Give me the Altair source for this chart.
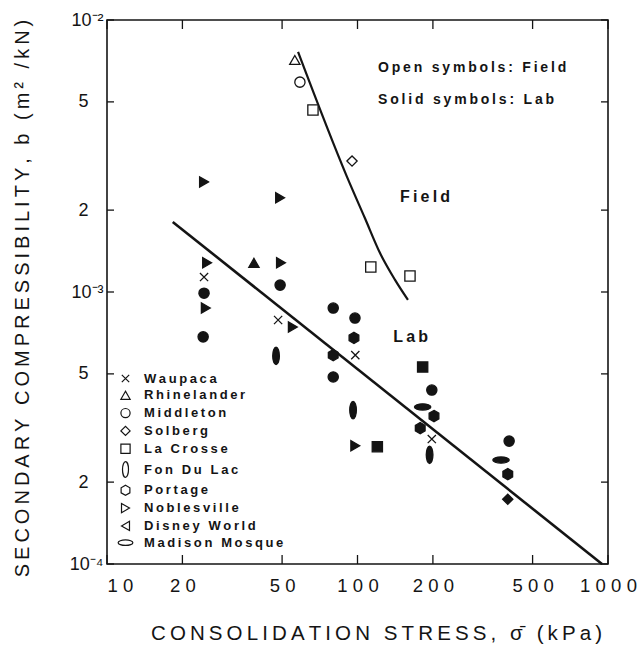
import unicodedata
import altair as alt
import pandas as pd

# ---------------- data ----------------
sites = ["Waupaca", "Rhinelander", "Middleton", "Solberg", "La Crosse",
         "Fon Du Lac", "Portage", "Noblesville", "Disney World", "Madison Mosque"]

field_site = ["Rhinelander", "Middleton", "La Crosse", "Solberg", "La Crosse", "La Crosse"]
field_x = [56.2, 58.9, 66.4, 95.1, 113, 162]
field_y = [0.00713, 0.00591, 0.00467, 0.00303, 0.001236, 0.001145]

lab_site = ["Noblesville", "Noblesville", "Waupaca", "Middleton", "Noblesville", "Middleton",
            "Rhinelander",
            "Noblesville", "Noblesville", "Middleton", "Waupaca", "Fon Du Lac", "Noblesville",
            "Middleton", "Portage", "Middleton",
            "Middleton", "Portage", "Waupaca", "Fon Du Lac", "Noblesville",
            "La Crosse",
            "La Crosse", "Middleton", "Madison Mosque", "Portage", "Portage", "Waupaca", "Fon Du Lac",
            "Middleton", "Madison Mosque", "Portage", "Solberg"]
lab_x = [24.4, 25.1, 24.4, 24.4, 24.8, 24.2,
         38.6,
         49.1, 49.5, 49.1, 48.2, 47.3, 55.2,
         80, 80, 80,
         97.7, 96.8, 98, 96, 98,
         120,
         182, 198, 182, 202, 178, 198, 194,
         403, 374, 398, 398]
lab_y = [0.00254, 0.00128, 0.001135, 0.00099, 0.000873, 0.000684,
         0.00128,
         0.00222, 0.00128, 0.00106, 0.000789, 0.000582, 0.000743,
         0.000873, 0.000586, 0.000487,
         0.000802, 0.000678, 0.000586, 0.000368, 0.000272,
         0.000270,
         0.00053, 0.000436, 0.000378, 0.00035, 0.000316, 0.000288, 0.000252,
         0.000283, 0.000241, 0.000214, 0.000173]

lab_line_x = [18.3, 946]
lab_line_y = [0.00181, 0.0001]

field_curve_x = [57.9, 90.8, 107, 123, 141, 159]
field_curve_y = [0.00763, 0.00265, 0.00187, 0.00139, 0.00111, 0.000935]

x_ticks = [10, 20, 50, 100, 200, 500, 1000]
y_ticks = [0.0001, 0.0002, 0.0005, 0.001, 0.002, 0.005, 0.01]
PAD = "\u00a0\u2007\u2060"
y_tick_labels = ["10⁻⁴", "2" + PAD, "5" + PAD, "10⁻³", "2" + PAD, "5" + PAD, "10⁻²"]

note_text = ["Open symbols: Field", "Solid symbols: Lab"]
note_x = [120.8, 120.8]
note_y = [0.00666, 0.00510]

curve_label_text = ["Field", "Lab"]
curve_label_x = [186, 163]
curve_label_y = [0.00223, 0.000684]

x_title = "CONSOLIDATION STRESS, σ̄ (kPa)"
y_title = "SECONDARY COMPRESSIBILITY, b (m² /kN)"

# ---------------- helpers ----------------
TS = "\u2009"


def spaced(s):
    units = []
    for ch in s:
        if units and unicodedata.combining(ch):
            units[-1] += ch
        else:
            units.append(ch)
    return TS.join(units)


FONT = "Liberation Sans"
INK = "#141414"
W, H = 501, 544

shape_paths = [
    "M-0.8,-0.8L0.8,0.8M-0.8,0.8L0.8,-0.8",                       # Waupaca  x
    "triangle-up",                                                 # Rhinelander
    "circle",                                                      # Middleton
    "diamond",                                                     # Solberg
    "square",                                                      # La Crosse
    "M0,-1.7A0.65,1.7 0 1,1 0,1.7A0.65,1.7 0 1,1 0,-1.7Z",         # Fon Du Lac
    "M0,-1.1L0.95,-0.55L0.95,0.55L0,1.1L-0.95,0.55L-0.95,-0.55Z",  # Portage
    "triangle-right",                                              # Noblesville
    "triangle-left",                                               # Disney World
    "M-1.6,0A1.6,0.6 0 1,1 1.6,0A1.6,0.6 0 1,1 -1.6,0Z",           # Madison Mosque
]

points = pd.DataFrame({
    "x": field_x + lab_x,
    "y": field_y + lab_y,
    "site": field_site + lab_site,
    "type": ["Field"] * len(field_x) + ["Lab"] * len(lab_x),
})

xscale = alt.Scale(type="log", domain=[10, 1000], nice=False)
yscale = alt.Scale(type="log", domain=[0.0001, 0.01], nice=False)

legend_expr = "join(split(datum.label, ''), '" + TS + "')"
xlab_expr = "join(split(format(datum.value, 'd'), ''), '" + TS + "\u200a')"

ylab_expr = "'" + y_tick_labels[-1] + "'"
for v, lab in zip(y_ticks, y_tick_labels):
    ylab_expr = f"abs(datum.value - {v}) < {v * 0.01} ? '{lab}' : ({ylab_expr})"

xaxis = alt.Axis(
    values=x_ticks, labelExpr=xlab_expr, labelFlush=False, labelOverlap=False,
    labelAlign={"expr": "datum.value <= 10 ? 'left' : 'center'"},
    labelPadding=12, labelFontSize=18.5,
    title=spaced(x_title), titleX=269, titleY=69, titleAngle=0,
    titleAlign="center", titleBaseline="middle", titleFontSize=20.5, titleFontWeight="normal",
)
yaxis = alt.Axis(
    values=y_ticks, labelExpr=ylab_expr, labelFlush=False, labelOverlap=False,
    labelPadding=4, labelFontSize=18,
    title=spaced(y_title), titleX=-85, titleY=278, titleAngle=-90,
    titleAlign="center", titleBaseline="middle", titleFontSize=20, titleFontWeight="normal",
)

X = alt.X("x:Q", scale=xscale, axis=xaxis)
Y = alt.Y("y:Q", scale=yscale, axis=yaxis)

pts = alt.Chart(points).mark_point(
    stroke=INK, strokeWidth=1.3, size=105, opacity=1
).encode(
    x=X, y=Y,
    shape=alt.Shape(
        "site:N",
        scale=alt.Scale(domain=sites, range=shape_paths),
        legend=alt.Legend(
            orient="none", legendX=12, legendY=352, title=None, padding=0,
            symbolFillColor="white", symbolStrokeColor=INK, symbolStrokeWidth=1.2,
            symbolSize=85, labelFont=FONT, labelFontSize=13, labelFontWeight="bold",
            labelColor=INK, labelExpr=legend_expr, labelOffset=12, rowPadding=2.8,
        ),
    ),
    fill=alt.Fill("type:N", scale=alt.Scale(domain=["Field", "Lab"], range=["white", INK]),
                  legend=None),
)

lab_line = alt.Chart(pd.DataFrame({"x": lab_line_x, "y": lab_line_y})).mark_line(
    color=INK, strokeWidth=2.6
).encode(x=X, y=Y)

field_line = alt.Chart(pd.DataFrame({"x": field_curve_x, "y": field_curve_y})).mark_line(
    color=INK, strokeWidth=2.2, interpolate="monotone"
).encode(x=X, y=Y, order="x:Q")

xt = pd.DataFrame({"x": x_ticks})
yt = pd.DataFrame({"y": y_ticks})
tick_x_bottom = alt.Chart(xt).mark_rule(color=INK, strokeWidth=1.3).encode(
    x=X, y=alt.value(H), y2=alt.value(H - 9))
tick_x_top = alt.Chart(xt).mark_rule(color=INK, strokeWidth=1.3).encode(
    x=X, y=alt.value(0), y2=alt.value(9))
tick_y_left = alt.Chart(yt).mark_rule(color=INK, strokeWidth=1.3).encode(
    y=Y, x=alt.value(0), x2=alt.value(7))
tick_y_right = alt.Chart(yt).mark_rule(color=INK, strokeWidth=1.3).encode(
    y=Y, x=alt.value(W - 7), x2=alt.value(W))

notes = alt.Chart(pd.DataFrame({
    "x": note_x, "y": note_y, "t": [spaced(t) for t in note_text]
})).mark_text(
    font=FONT, fontSize=14, fontWeight="bold", align="left", baseline="middle", color=INK
).encode(x=X, y=Y, text="t:N")

curve_labels = alt.Chart(pd.DataFrame({
    "x": curve_label_x, "y": curve_label_y, "t": [spaced(t) for t in curve_label_text]
})).mark_text(
    font=FONT, fontSize=16, fontWeight="bold", align="center", baseline="middle", color=INK
).encode(x=X, y=Y, text="t:N")

chart = alt.layer(
    tick_x_bottom, tick_x_top, tick_y_left, tick_y_right,
    lab_line, field_line, pts, notes, curve_labels
).properties(
    width=W, height=H,
    autosize=alt.AutoSizeParams(type="none"),
    padding={"left": 107, "top": 20, "right": 31, "bottom": 100},
    background="white",
).configure_view(
    stroke=INK, strokeWidth=1.6
).configure_axis(
    labelFont=FONT, titleFont=FONT, labelColor=INK, titleColor=INK,
    domain=False, ticks=False, grid=False,
)

chart.save("out.html", embed_options={"renderer": "svg", "actions": False})
